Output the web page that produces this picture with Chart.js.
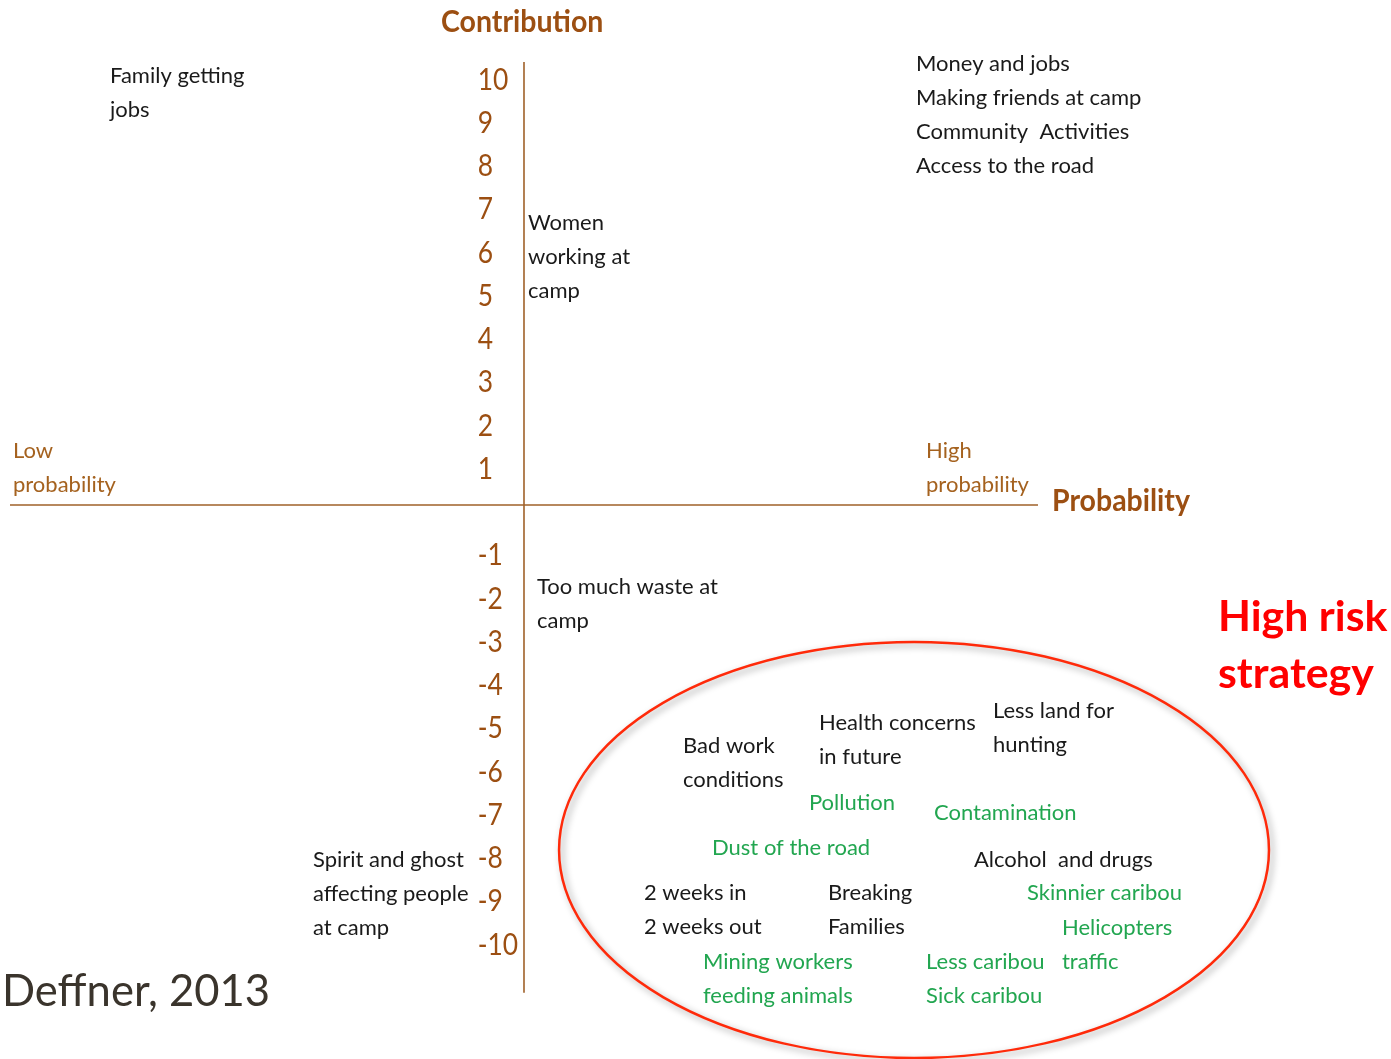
<!DOCTYPE html>
<html>
<head>
<meta charset="utf-8">
<script src="https://cdn.jsdelivr.net/npm/chart.js@4.4.1/dist/chart.umd.min.js"></script>
<style>
  body { margin: 0; background: #ffffff; }
  canvas { display: block; }
</style>
</head>
<body>
<canvas id="riskChart" width="1391" height="1059"></canvas>
<script>
// contribution axis ticks (no zero)
const yTickValues = [10, 9, 8, 7, 6, 5, 4, 3, 2, 1, -1, -2, -3, -4, -5, -6, -7, -8, -9, -10];
const yTickLabels = ['10', '9', '8', '7', '6', '5', '4', '3', '2', '1',
  '-1', '-2', '-3', '-4', '-5', '-6', '-7', '-8', '-9', '-10'];

// probability runs 0 (low) .. 10 (high), vertical axis sits at the middle
const probabilityRange = [0, 10];
const contributionRange = [10.24, -11.28];
const axisCrossing = 5;
const tickColumn = 4.55;

// statements placed on the grid (probability, contribution of first line)
const labelTexts = [
  'Family getting\njobs',
  'Money and jobs\nMaking friends at camp\nCommunity  Activities\nAccess to the road',
  'Women\nworking at\ncamp',
  'Too much waste at\ncamp',
  'Spirit and ghost\naffecting people\nat camp',
  'Bad work\nconditions',
  'Health concerns\nin future',
  'Less land for\nhunting',
  'Pollution',
  'Contamination',
  'Dust of the road',
  'Alcohol  and drugs',
  '2 weeks in\n2 weeks out',
  'Breaking\nFamilies',
  'Skinnier caribou',
  'Helicopters\ntraffic',
  'Mining workers\nfeeding animals',
  'Less caribou\nSick caribou',
  'Low\nprobability',
  'High\nprobability',
  'Contribution',
  'Probability',
  'High risk\nstrategy',
  'Deffner, 2013'
];
const labelX = [0.973, 8.813, 5.039, 5.126, 2.947, 6.547, 7.870, 9.562, 7.772, 8.988,
  6.829, 9.377, 6.167, 7.957, 9.893, 10.233, 6.741, 8.911,
  0.029, 8.911, 4.193, 10.136, 11.751, -0.078];
const labelY = [9.919, 10.196, 6.520, -1.896, -8.208, -5.573, -5.041, -4.763, -6.890, -7.122,
  -7.931, -8.208, -8.971, -8.971, -8.971, -9.781, -10.567, -10.567,
  1.248, 1.248, 11.167, 0.092, -2.590, -11.260];
const labelKinds = ['social', 'social', 'social', 'social', 'social', 'social', 'social', 'social',
  'environment', 'environment', 'environment', 'social', 'social', 'social', 'environment',
  'environment', 'environment', 'environment',
  'axisNote', 'axisNote', 'axisTitle', 'axisTitle', 'alert', 'credit'];

// high risk zone (centre and radii in chart units)
const riskZoneCentre = [8.794, -7.977];
const riskZoneRadii = [3.453, 4.81];

const BROWN = '#9c4f12';
const FONT = 'Lato, "Open Sans", sans-serif';
const kindStyles = {
  social:      { font: '400 22px ' + FONT, color: '#1a1a1a', lineHeight: 34, squeeze: 1 },
  environment: { font: '400 22px ' + FONT, color: '#22a650', lineHeight: 34, squeeze: 1 },
  axisNote:    { font: '400 22px ' + FONT, color: '#a5621f', lineHeight: 34, squeeze: 1 },
  axisTitle:   { font: '700 30px ' + FONT, color: BROWN, lineHeight: 34, squeeze: 0.95 },
  alert:       { font: '700 42px ' + FONT, color: '#ff0000', lineHeight: 57, squeeze: 1.02 },
  credit:      { font: '400 44px ' + FONT, color: '#3a342c', lineHeight: 50, squeeze: 0.99 }
};
const tickStyle = { font: '400 30px ' + FONT, color: BROWN, lineHeight: 34, squeeze: 0.88 };

function drawText(ctx, text, x, y, style) {
  ctx.save();
  ctx.font = style.font;
  ctx.fillStyle = style.color;
  ctx.textAlign = 'left';
  ctx.textBaseline = 'middle';
  text.split('\n').forEach(function (line, i) {
    ctx.save();
    ctx.translate(x, y + i * style.lineHeight);
    ctx.scale(style.squeeze, 1);
    ctx.fillText(line, 0, 0);
    ctx.restore();
  });
  ctx.restore();
}

const quadrantPlugin = {
  id: 'quadrant',
  beforeDatasetsDraw(chart) {
    const ctx = chart.ctx;
    const xs = chart.scales.x, ys = chart.scales.y;

    // axes
    ctx.save();
    ctx.strokeStyle = '#a0612a';
    ctx.lineWidth = 1.6;
    ctx.beginPath();
    ctx.moveTo(xs.getPixelForValue(probabilityRange[0]), ys.getPixelForValue(0));
    ctx.lineTo(xs.getPixelForValue(probabilityRange[1]), ys.getPixelForValue(0));
    ctx.moveTo(xs.getPixelForValue(axisCrossing), ys.getPixelForValue(contributionRange[0]));
    ctx.lineTo(xs.getPixelForValue(axisCrossing), ys.getPixelForValue(contributionRange[1]));
    ctx.stroke();
    ctx.restore();

    // tick numbers
    yTickValues.forEach(function (v, i) {
      drawText(ctx, yTickLabels[i], xs.getPixelForValue(tickColumn), ys.getPixelForValue(v) + 7.5, tickStyle);
    });

    // risk ellipse
    const cx = xs.getPixelForValue(riskZoneCentre[0]);
    const cy = ys.getPixelForValue(riskZoneCentre[1]);
    const rx = Math.abs(xs.getPixelForValue(riskZoneCentre[0] + riskZoneRadii[0]) - cx);
    const ry = Math.abs(ys.getPixelForValue(riskZoneCentre[1] + riskZoneRadii[1]) - cy);
    ctx.save();
    ctx.shadowColor = 'rgba(0,0,0,0.4)';
    ctx.shadowBlur = 7;
    ctx.shadowOffsetX = 3;
    ctx.shadowOffsetY = 3;
    ctx.strokeStyle = '#ff2a0a';
    ctx.lineWidth = 2.5;
    ctx.beginPath();
    ctx.ellipse(cx, cy, rx, ry, 0, 0, Math.PI * 2);
    ctx.stroke();
    ctx.restore();
  },
  afterDatasetsDraw(chart) {
    const meta = chart.getDatasetMeta(0);
    meta.data.forEach(function (pt, i) {
      drawText(chart.ctx, labelTexts[i], pt.x, pt.y, kindStyles[labelKinds[i]]);
    });
  }
};

new Chart(document.getElementById('riskChart'), {
  type: 'scatter',
  data: {
    datasets: [{
      label: 'statements',
      data: labelX.map(function (x, i) { return { x: x, y: labelY[i] }; }),
      pointRadius: 0,
      pointHoverRadius: 0
    }]
  },
  options: {
    responsive: false,
    animation: false,
    layout: { padding: 0 },
    plugins: { legend: { display: false }, tooltip: { enabled: false } },
    scales: {
      x: { type: 'linear', display: false, min: -0.0973, max: 13.434 },
      y: { type: 'linear', display: false, min: -12.81, max: 11.676 }
    }
  },
  plugins: [quadrantPlugin]
});
</script>
</body>
</html>
